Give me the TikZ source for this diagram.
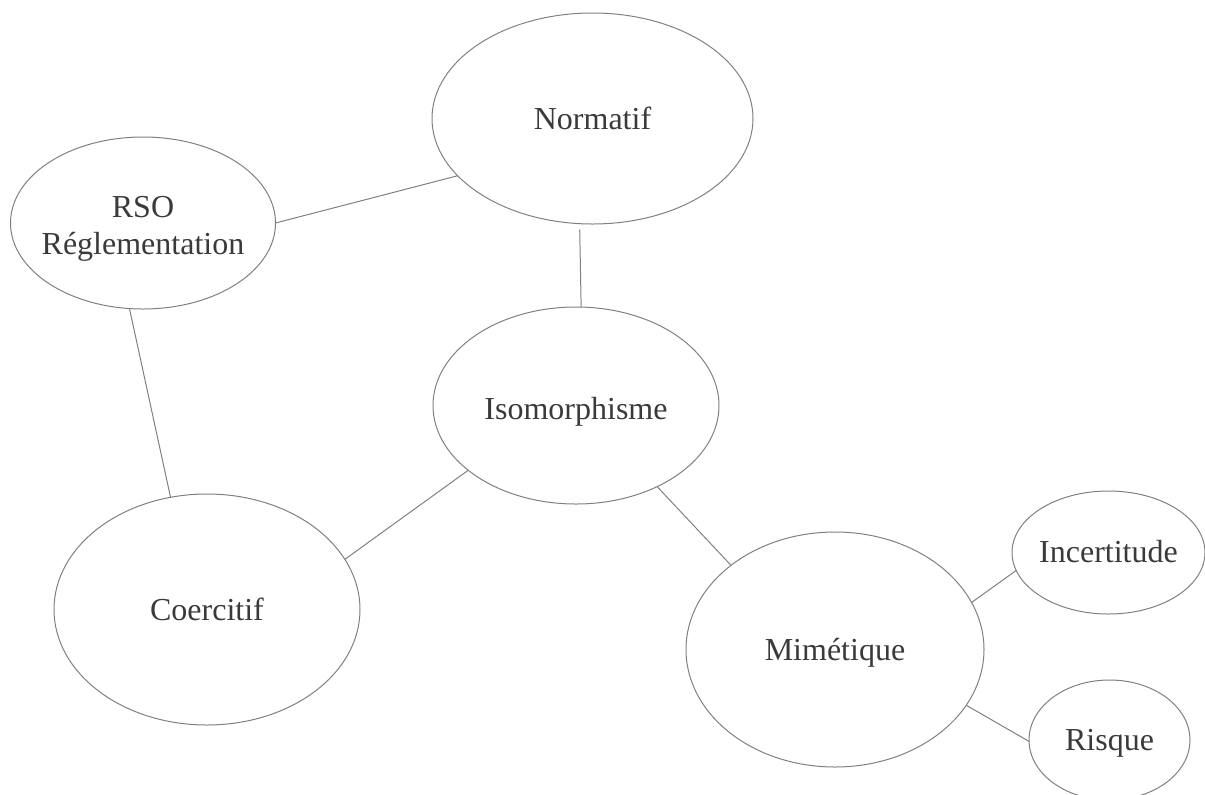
\documentclass[tikz,border=0pt]{standalone}
\usepackage{fontspec}
\setmainfont{Liberation Serif}
\usetikzlibrary{shapes.geometric}
\definecolor{linegray}{HTML}{808080}
\definecolor{textgray}{HTML}{3A3A3A}
\tikzset{
  bubble/.style={ellipse, draw=linegray, line width=0.5pt, inner sep=0pt, outer sep=0pt},
  txt/.style={text=textgray, font=\fontsize{16}{19}\selectfont, align=center, inner sep=0pt, anchor=base, yshift=-5.5pt},
  link/.style={draw=linegray, line width=0.5pt}
}
\begin{document}
\begin{tikzpicture}[x=0.5pt,y=-0.5pt]
\useasboundingbox (0,0) rectangle (1205,794);
\node[bubble, minimum width=160.5pt, minimum height=105.5pt] (norm) at (592.5,118.5) {};
\node[bubble, minimum width=132.5pt, minimum height=86pt] (rso) at (143,223) {};
\node[bubble, minimum width=143pt, minimum height=98.5pt] (iso) at (576,405.5) {};
\node[bubble, minimum width=153pt, minimum height=115.5pt] (coe) at (207,609.5) {};
\node[bubble, minimum width=149pt, minimum height=117.5pt] (mim) at (835,649.5) {};
\node[bubble, minimum width=96.5pt, minimum height=61.5pt] (inc) at (1108.5,552.5) {};
\node[bubble, minimum width=80.5pt, minimum height=60pt] (ris) at (1109.5,740) {};
\node[txt] (normt) at (norm.center) {Normatif};
\node[txt, yshift=8.5pt] (rsot1) at (rso.center) {RSO};
\node[txt, yshift=-10pt] (rsot2) at (rso.center) {Réglementation};
\node[txt, yshift=-1.5pt] (isot) at (iso.center) {Isomorphisme};
\node[txt] (coet) at (coe.center) {Coercitif};
\node[txt] (mimt) at (mim.center) {Mimétique};
\node[txt, yshift=0.5pt] (inct) at (inc.center) {Incertitude};
\node[txt, yshift=0.5pt] (rist) at (ris.center) {Risque};
\draw[link] (rso.east) -- (norm.203);
\draw[link, shorten <=3pt] (norm.263.8) -- (iso.87);
\draw[link] (rso.261.4) -- (coe.108.8);
\draw[link] (iso.211.4) -- (coe.20.5);
\draw[link] (iso.315.9) -- (mim.141.4);
\draw[link] (mim.19.8) -- (inc.191.7);
\draw[link] (mim.337.4) -- (ris.181);
\end{tikzpicture}
\end{document}
